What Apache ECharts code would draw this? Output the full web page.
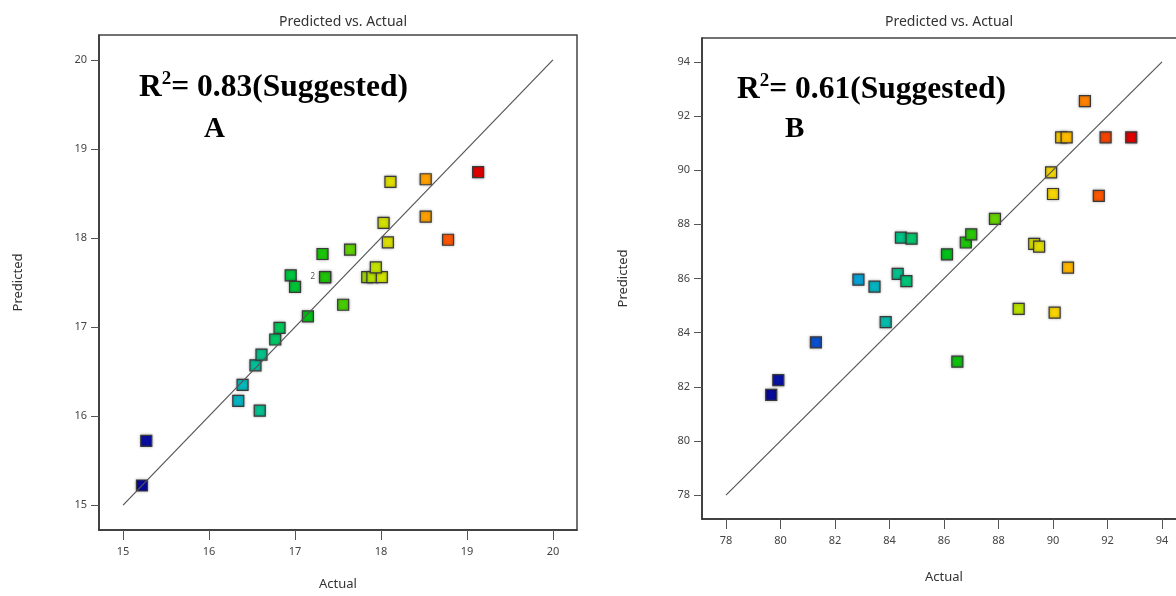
<!DOCTYPE html>
<html>
<head>
<meta charset="utf-8">
<script src="https://cdn.jsdelivr.net/npm/echarts@6/dist/echarts.min.js"></script>
<style>
  html, body { margin: 0; padding: 0; background: #fff; overflow: hidden; }
  /* wider than the window: panel B is cut off at the right, as in the source */
  #chart { width: 1200px; height: 596px; }
</style>
</head>
<body>
<div id="chart"></div>
<script>
// panel A
const actualA = [15.22, 15.27, 16.34, 16.39, 16.59, 16.54, 16.61, 16.77, 16.82, 16.95, 17.00, 17.15, 17.32, 17.35, 17.35,
  17.56, 17.64, 17.84, 17.90, 18.01, 17.94, 18.03, 18.08, 18.11, 18.52, 18.52, 18.78, 19.13];
const predA = [15.22, 15.72, 16.17, 16.35, 16.06, 16.57, 16.69, 16.86, 16.99, 17.58, 17.45, 17.12, 17.82, 17.56, 17.56,
  17.25, 17.87, 17.56, 17.56, 17.56, 17.67, 18.17, 17.95, 18.63, 18.66, 18.24, 17.98, 18.74];
const dupIndexA = 13;
const ticksA = [15, 16, 17, 18, 19, 20];
const rangeA = [14.72, 20.28];

// panel B
const actualB = [79.66, 79.92, 81.30, 82.86, 83.45, 83.86, 84.30, 84.62, 84.42, 84.81, 86.11, 86.49, 86.80, 87.00,
  87.87, 88.74, 89.31, 89.49, 89.93, 90.00, 90.06, 90.30, 90.50, 90.55, 91.17, 91.68, 91.93, 92.87];
const predB = [81.70, 82.25, 83.64, 85.96, 85.70, 84.39, 86.17, 85.90, 87.51, 87.47, 86.89, 82.93, 87.33, 87.63,
  88.20, 84.88, 87.28, 87.18, 89.92, 89.12, 84.74, 91.21, 91.21, 86.40, 92.55, 89.05, 91.21, 91.21];
const ticksB = [78, 80, 82, 84, 86, 88, 90, 92, 94];
const rangeB = [77.12, 94.88];

const ramp = ['#08089a', '#0a3cc8', '#0a90e4', '#06b8bc', '#00c862', '#00c010',
  '#48cc00', '#c8e400', '#ffd200', '#ff6000', '#e00000'];

const chart = echarts.init(document.getElementById('chart'));
const sans = 'Noto Sans';
const serif = 'Liberation Serif';

function xAx(grid, range, ticks, gap) {
  return {
    type: 'value', gridIndex: grid, min: range[0], max: range[1],
    name: 'Actual', nameLocation: 'middle', nameGap: gap,
    nameTextStyle: { fontFamily: sans, fontSize: 13, color: '#333' },
    splitLine: { show: false },
    axisLine: { lineStyle: { color: '#333', width: 1.5 } },
    axisTick: { customValues: ticks, length: 10, lineStyle: { color: '#555' } },
    axisLabel: { customValues: ticks, margin: 16, fontFamily: sans, fontSize: 11, color: '#444' }
  };
}
function yAx(grid, range, ticks, gap) {
  return {
    type: 'value', gridIndex: grid, min: range[0], max: range[1],
    name: 'Predicted', nameLocation: 'middle', nameGap: gap,
    nameTextStyle: { fontFamily: sans, fontSize: 13, color: '#333' },
    splitLine: { show: false },
    axisLine: { lineStyle: { color: '#333', width: 1.5 } },
    axisTick: { customValues: ticks, length: 8, lineStyle: { color: '#555' } },
    axisLabel: { customValues: ticks, margin: 12, fontFamily: sans, fontSize: 11, color: '#444' }
  };
}
function pts(xs, ys, dup) {
  return xs.map((x, i) => {
    const item = { value: [x, ys[i]] };
    if (i === dup) {
      item.label = { show: true, formatter: '2', position: 'left', distance: 4,
        fontSize: 8, color: '#555', fontFamily: sans };
    }
    return item;
  });
}
const pointStyle = {
  borderColor: '#3a3a3a', borderWidth: 1.2,
  shadowBlur: 3, shadowColor: 'rgba(0,0,0,0.35)', opacity: 1
};
function rich(r2) {
  return {
    text: '{a|R}{s|2}{a|= ' + r2 + '(Suggested)}',
    textStyle: {
      rich: {
        a: { fontFamily: serif, fontWeight: 'bold', fontSize: 31.5, color: '#000', lineHeight: 36 },
        s: { fontFamily: serif, fontWeight: 'bold', fontSize: 19, color: '#000', verticalAlign: 'top', lineHeight: 36 }
      }
    }
  };
}

chart.setOption({
  animation: false,
  title: [
    { text: 'Predicted vs. Actual', left: 338, top: 10, textAlign: 'center',
      textStyle: { fontFamily: sans, fontSize: 14, fontWeight: 'normal', color: '#333' } },
    { text: 'Predicted vs. Actual', left: 944, top: 10, textAlign: 'center',
      textStyle: { fontFamily: sans, fontSize: 14, fontWeight: 'normal', color: '#333' } },
    Object.assign({ left: 134, top: 65 }, rich('0.83')),
    Object.assign({ left: 732, top: 67 }, rich('0.61')),
    { text: 'A', left: 199, top: 110,
      textStyle: { fontFamily: serif, fontWeight: 'bold', fontSize: 29, color: '#000' } },
    { text: 'B', left: 780, top: 110,
      textStyle: { fontFamily: serif, fontWeight: 'bold', fontSize: 29, color: '#000' } }
  ],
  grid: [
    { left: 99, top: 35, width: 478, height: 495, show: true, borderColor: '#444', borderWidth: 1.5 },
    { left: 702, top: 38, width: 484, height: 481, show: true, borderColor: '#444', borderWidth: 1.5 }
  ],
  xAxis: [xAx(0, rangeA, ticksA, 48), xAx(1, rangeB, ticksB, 52)],
  yAxis: [yAx(0, rangeA, ticksA, 74), yAx(1, rangeB, ticksB, 72)],
  visualMap: [
    { type: 'continuous', show: false, seriesIndex: 1, dimension: 0,
      min: Math.min(...actualA), max: Math.max(...actualA), inRange: { color: ramp } },
    { type: 'continuous', show: false, seriesIndex: 3, dimension: 0,
      min: Math.min(...actualB), max: Math.max(...actualB), inRange: { color: ramp } }
  ],
  series: [
    { type: 'line', xAxisIndex: 0, yAxisIndex: 0, symbol: 'none', silent: true,
      data: [[ticksA[0], ticksA[0]], [ticksA[ticksA.length - 1], ticksA[ticksA.length - 1]]],
      lineStyle: { color: '#555', width: 1.2 } },
    { type: 'scatter', xAxisIndex: 0, yAxisIndex: 0, symbol: 'rect', symbolSize: 11,
      data: pts(actualA, predA, dupIndexA), itemStyle: pointStyle },
    { type: 'line', xAxisIndex: 1, yAxisIndex: 1, symbol: 'none', silent: true,
      data: [[ticksB[0], ticksB[0]], [ticksB[ticksB.length - 1], ticksB[ticksB.length - 1]]],
      lineStyle: { color: '#555', width: 1.2 } },
    { type: 'scatter', xAxisIndex: 1, yAxisIndex: 1, symbol: 'rect', symbolSize: 11,
      data: pts(actualB, predB, -1), itemStyle: pointStyle }
  ]
});
</script>
</body>
</html>
